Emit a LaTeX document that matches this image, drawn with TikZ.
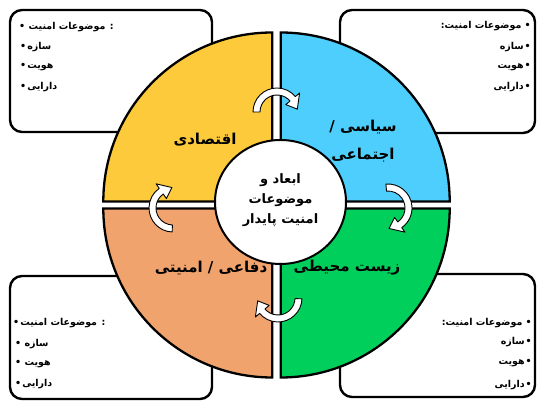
\documentclass[tikz,border=0pt]{standalone}
\usepackage{fontspec}
\usetikzlibrary{shapes.geometric}
\newfontfamily\fa[Script=Arabic]{DejaVu Sans}
\TeXXeTstate=1
\definecolor{qyellow}{HTML}{FDCA3C}
\definecolor{qblue}{HTML}{4DCEFC}
\definecolor{qorange}{HTML}{F0A36D}
\definecolor{qgreen}{HTML}{00CF5B}
\newcommand{\rtl}[1]{\beginR #1\endR}
\tikzset{
  infobox/.style={draw=black, line width=2.4pt, rounded corners=12pt, fill=white},
  quad/.style={draw=black, line width=2.3pt, line join=miter},
  itemtxt/.style={font=\fa\bfseries\fontsize{9.5}{11}\selectfont, inner sep=0pt},
  quadlbl/.style={font=\fa\bfseries\fontsize{15}{28}\selectfont, align=center, inner sep=0pt},
  centerlbl/.style={font=\fa\bfseries\fontsize{13}{20}\selectfont, align=center, inner sep=0pt},
  blockarrow/.style={draw=black, line width=0.9pt, fill=white, line join=round},
}
\newcommand{\circarrow}[4]{%
  \draw[blockarrow, shift={(#1,#2)}] (#3:24) arc[start angle=#3, end angle=#4, radius=24]
    -- (#4:29.5) -- ({#4-32}:20.5) -- (#4:11.5) -- (#4:17)
    arc[start angle=#4, end angle=#3, radius=17] -- cycle;}
\begin{document}
\begin{tikzpicture}[x=1pt,y=1pt]
\useasboundingbox (0,0) rectangle (537,403);
% info boxes
\draw[infobox] (10,271) rectangle (212,393);
\draw[infobox] (340,270) rectangle (535,393);
\draw[infobox] (10,4) rectangle (212,127);
\draw[infobox] (340,6) rectangle (535,129);
% quadrants
\def\R{169}
\draw[quad, fill=qyellow] (272.3,201.5) -- ++(90:\R) arc[start angle=90, end angle=180, radius=\R] -- cycle;
\draw[quad, fill=qblue] (280.7,201.5) -- ++(0:\R) arc[start angle=0, end angle=90, radius=\R] -- cycle;
\draw[quad, fill=qorange] (272.3,194.5) -- ++(180:\R) arc[start angle=180, end angle=270, radius=\R] -- cycle;
\draw[quad, fill=qgreen] (280.7,194.5) -- ++(270:\R) arc[start angle=270, end angle=360, radius=\R] -- cycle;
% center circle
\node[draw=black, line width=2pt, fill=white, ellipse, minimum width=131pt, minimum height=124pt, inner sep=0pt] (core) at (280.5,201) {};
\node[centerlbl] (coretxt) at (280.5,203) {\rtl{ابعاد و}\\\rtl{موضوعات}\\\rtl{امنیت پایدار}};
% curved arrows
\circarrow{277}{291}{180}{40}
\circarrow{388}{195}{95}{-55}
\circarrow{278}{105}{-2}{-140}
\circarrow{173}{195}{268}{125}
% quadrant labels
\node[quadlbl] (econ) at (205,263) {\rtl{اقتصادی}};
\node[quadlbl] (pol) at (363,262) {\rtl{سیاسی /}\\\rtl{اجتماعی}};
\node[quadlbl] (def) at (211,135) {\rtl{دفاعی / امنیتی}};
\node[quadlbl] (env) at (347,135) {\rtl{زیست محیطی}};
% top-left box text
\node[itemtxt, anchor=west] (tl1) at (19,376) {\rtl{: موضوعات امنیت •}};
\node[itemtxt, anchor=west] (tl2) at (20,356) {\rtl{سازه\kern1pt •}};
\node[itemtxt, anchor=west] (tl3) at (20,336) {\rtl{هویت\kern1pt •}};
\node[itemtxt, anchor=west] (tl4) at (20,316) {\rtl{دارایی\kern1pt •}};
% top-right box text
\node[itemtxt, anchor=east] (tr1) at (531,377) {\rtl{• موضوعات امنیت\kern0pt :}};
\node[itemtxt, anchor=east] (tr2) at (531,356) {\rtl{•\kern1pt سازه}};
\node[itemtxt, anchor=east] (tr3) at (531,336) {\rtl{•\kern1pt هویت}};
\node[itemtxt, anchor=east] (tr4) at (531,316) {\rtl{•\kern1pt دارایی}};
% bottom-left box text
\node[itemtxt, anchor=west] (bl1) at (13,80) {\rtl{: موضوعات امنیت\kern1pt •}};
\node[itemtxt, anchor=west] (bl2) at (15,59) {\rtl{سازه •}};
\node[itemtxt, anchor=west] (bl3) at (15,39) {\rtl{هویت •}};
\node[itemtxt, anchor=west] (bl4) at (15,19) {\rtl{دارایی\kern1pt •}};
% bottom-right box text
\node[itemtxt, anchor=east] (br1) at (532,80) {\rtl{• موضوعات امنیت\kern0pt :}};
\node[itemtxt, anchor=east] (br2) at (532,61) {\rtl{•\kern1pt سازه}};
\node[itemtxt, anchor=east] (br3) at (532,40) {\rtl{•\kern1pt هویت}};
\node[itemtxt, anchor=east] (br4) at (532,18) {\rtl{•\kern1pt دارایی}};
\end{tikzpicture}
\end{document}
